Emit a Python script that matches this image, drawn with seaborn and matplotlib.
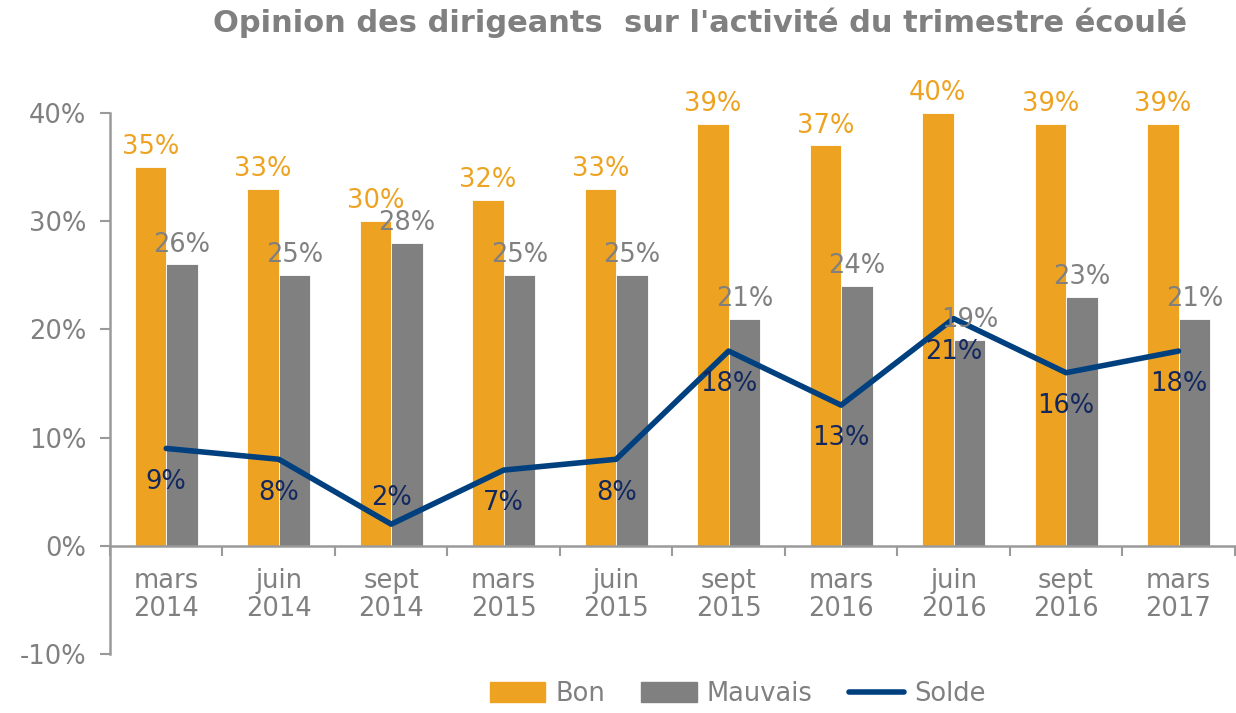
import numpy as np
import pandas as pd
import seaborn as sns
import matplotlib.pyplot as plt
from matplotlib.patches import Patch
from matplotlib.lines import Line2D

# data
periodes = ["mars\n2014", "juin\n2014", "sept\n2014", "mars\n2015", "juin\n2015",
            "sept\n2015", "mars\n2016", "juin\n2016", "sept\n2016", "mars\n2017"]
bon = [35, 33, 30, 32, 33, 39, 37, 40, 39, 39]
mauvais = [26, 25, 28, 25, 25, 21, 24, 19, 23, 21]
solde = [9, 8, 2, 7, 8, 18, 13, 21, 16, 18]

ORANGE = "#EDA321"
GRIS = "#808080"
BLEU = "#00407F"
BLEU_TXT = "#12285E"
FS = 18.5

sns.set_style("white")
plt.rcParams['font.family'] = ['DejaVu Sans']

df = pd.DataFrame({"periode": periodes * 2,
                   "serie": ["Bon"] * 10 + ["Mauvais"] * 10,
                   "valeur": bon + mauvais})

fig = plt.figure(figsize=(12.36, 7.13), dpi=100)
ax = fig.add_axes([0.089, 0.0827, 0.91, 0.7588])

sns.barplot(data=df, x="periode", y="valeur", hue="serie",
            palette=[ORANGE, GRIS], width=0.56, saturation=1,
            edgecolor="white", linewidth=0.6, legend=False, ax=ax)

x = np.arange(len(periodes))
sns.lineplot(x=x, y=solde, color=BLEU, linewidth=4, ax=ax, legend=False)

# labels on bars
for cont, col in zip(ax.containers, [ORANGE, GRIS]):
    for bar in cont:
        h = bar.get_height()
        ax.annotate(f"{h:.0f}%", (bar.get_x() + bar.get_width() / 2, h),
                    xytext=(0, 5), textcoords="offset points",
                    ha="center", va="bottom", fontsize=FS, color=col,
                    annotation_clip=False)

# labels on line
for xi, v in zip(x, solde):
    dy = 19 if v < 5 else -24
    ax.annotate(f"{v}%", (xi, v), xytext=(0, dy), textcoords="offset points",
                ha="center", va="center", fontsize=FS, color=BLEU_TXT)

ax.set_ylim(-10, 40)
ax.set_xlim(-0.5, len(periodes) - 0.5)
ax.set_yticks([-10, 0, 10, 20, 30, 40])
ax.set_yticklabels([f"{t}%" for t in [-10, 0, 10, 20, 30, 40]])
ax.tick_params(axis="y", labelsize=FS, labelcolor=GRIS, colors="#9A9A9A",
               length=7, width=1.5, left=True, pad=10)

ax.spines["bottom"].set_position(("data", 0))
for s in ["top", "right"]:
    ax.spines[s].set_visible(False)
for s in ["left", "bottom"]:
    ax.spines[s].set_color("#9A9A9A")
    ax.spines[s].set_linewidth(1.8)

ax.set_xticks(x)
ax.set_xticklabels(periodes)
ax.set_xticks(np.arange(-0.5, len(periodes), 1), minor=True)
ax.tick_params(axis="x", which="major", length=0, labelsize=FS,
               labelcolor=GRIS, pad=16)
ax.tick_params(axis="x", which="minor", length=7, width=1.5, colors="#9A9A9A",
               bottom=True)
for lab in ax.get_xticklabels():
    lab.set_linespacing(1.12)
ax.set_xlabel("")
ax.set_ylabel("")

fig.suptitle("Opinion des dirigeants  sur l'activité du trimestre écoulé",
             x=0.566, y=0.99, fontsize=22, fontweight="bold", color=GRIS)

handles = [Patch(color=ORANGE, label="Bon"),
           Patch(color=GRIS, label="Mauvais"),
           Line2D([0], [0], color=BLEU, linewidth=4, solid_capstyle="round",
                  label="Solde")]
leg = fig.legend(handles=handles, loc="lower center", bbox_to_anchor=(0.597, -0.024),
                 ncol=3, frameon=False, fontsize=FS, handlelength=2.15,
                 handleheight=0.8, handletextpad=0.4, columnspacing=1.4)
for t in leg.get_texts():
    t.set_color(GRIS)

fig.savefig("out.png", dpi=100)
